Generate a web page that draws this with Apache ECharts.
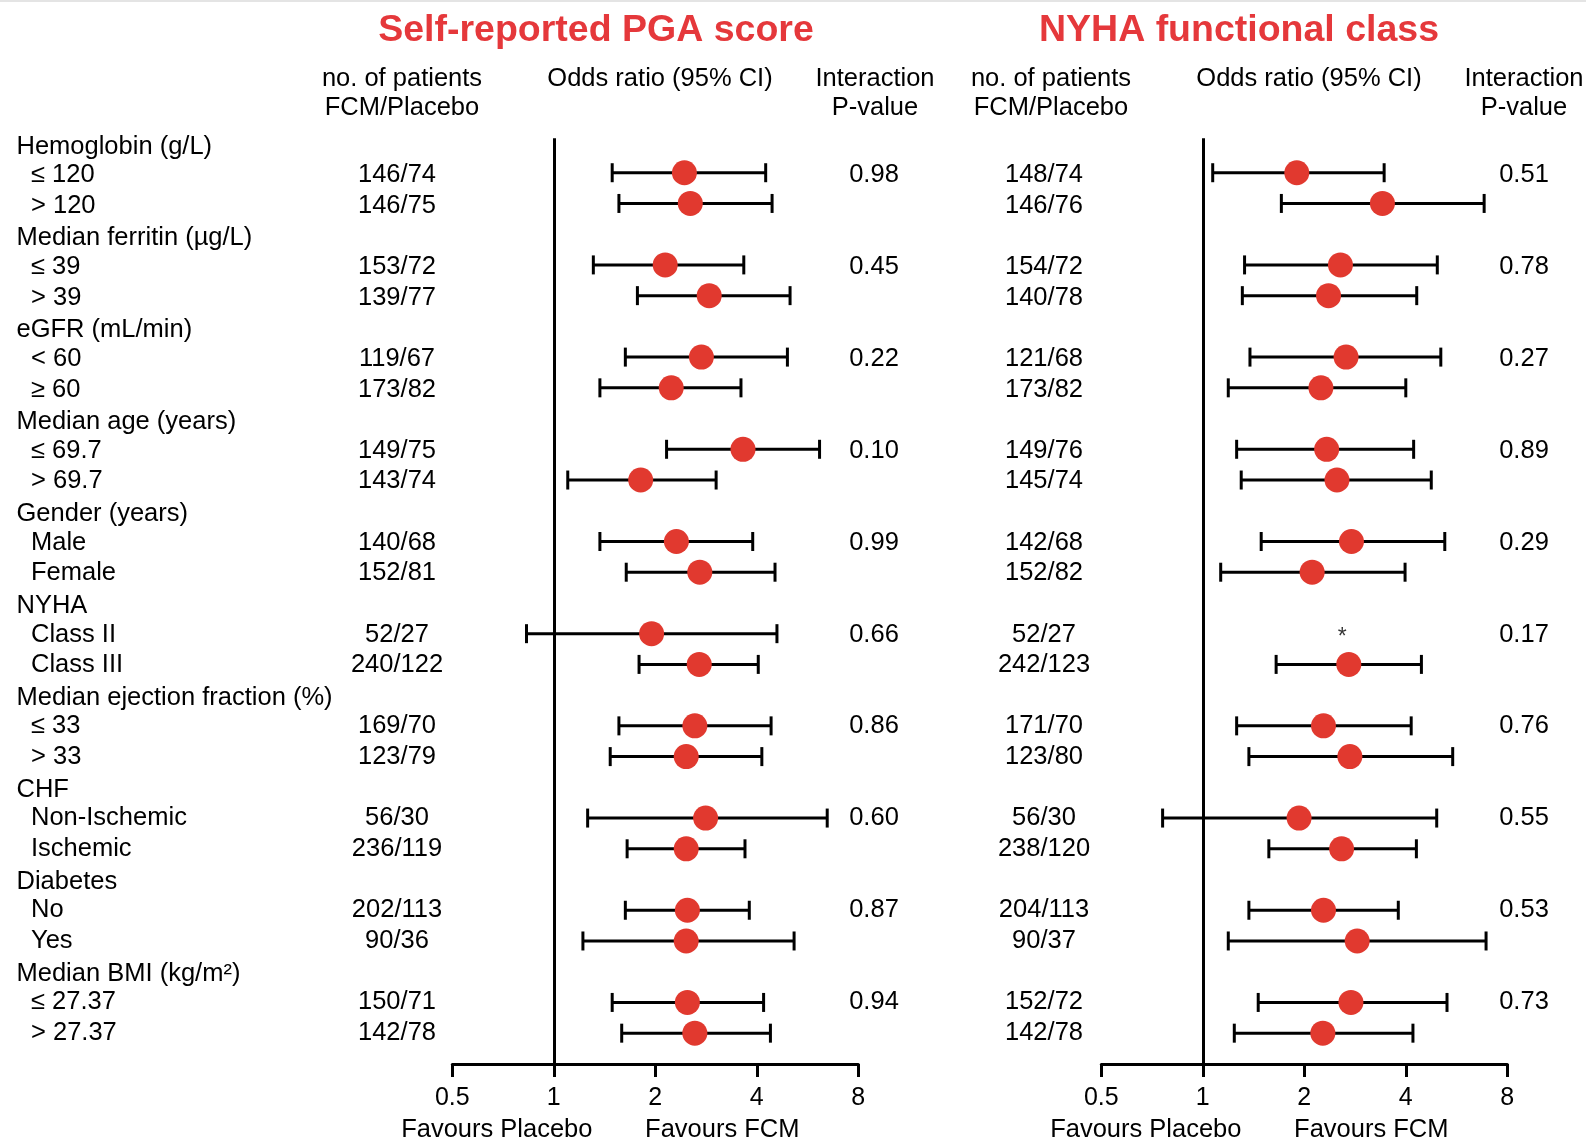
<!DOCTYPE html>
<html>
<head>
<meta charset="utf-8">
<title>Subgroup analyses: PGA score and NYHA class</title>
<script src="https://cdn.jsdelivr.net/npm/echarts@6/dist/echarts.min.js"></script>
<style>
  html, body { margin: 0; padding: 0; background: #fff; }
  #chart { width: 1586px; height: 1140px; }
</style>
</head>
<body>
<div id="chart"></div>
<script>
// Subgroup headings and the two subgroups listed under each
const groups = ['Hemoglobin (g/L)', 'Median ferritin (µg/L)', 'eGFR (mL/min)', 'Median age (years)',
  'Gender (years)', 'NYHA', 'Median ejection fraction (%)', 'CHF', 'Diabetes', 'Median BMI (kg/m²)'];
const subgroups = ['≤ 120', '> 120', '≤ 39', '> 39', '< 60', '≥ 60', '≤ 69.7', '> 69.7', 'Male', 'Female',
  'Class II', 'Class III', '≤ 33', '> 33', 'Non-Ischemic', 'Ischemic', 'No', 'Yes', '≤ 27.37', '> 27.37'];

// Self-reported PGA score
const pgaCounts = ['146/74', '146/75', '153/72', '139/77', '119/67', '173/82', '149/75', '143/74', '140/68', '152/81',
  '52/27', '240/122', '169/70', '123/79', '56/30', '236/119', '202/113', '90/36', '150/71', '142/78'];
const pgaOR   = [2.44, 2.54, 2.14, 2.89, 2.74, 2.23, 3.64, 1.81, 2.31, 2.71, 1.95, 2.70, 2.62, 2.47, 2.82, 2.47, 2.49, 2.47, 2.49, 2.62];
const pgaLow  = [1.49, 1.56, 1.31, 1.77, 1.63, 1.37, 2.16, 1.10, 1.37, 1.64, 0.83, 1.79, 1.56, 1.47, 1.26, 1.65, 1.63, 1.22, 1.49, 1.59];
const pgaHigh = [4.25, 4.44, 3.66, 5.02, 4.93, 3.59, 6.14, 3.03, 3.89, 4.53, 4.59, 4.04, 4.41, 4.14, 6.47, 3.69, 3.80, 5.16, 4.19, 4.39];
const pgaP = ['0.98', '0.45', '0.22', '0.10', '0.99', '0.66', '0.86', '0.60', '0.87', '0.94'];

// NYHA functional class (no estimate for NYHA class II)
const nyhaCounts = ['148/74', '146/76', '154/72', '140/78', '121/68', '173/82', '149/76', '145/74', '142/68', '152/82',
  '52/27', '242/123', '171/70', '123/80', '56/30', '238/120', '204/113', '90/37', '152/72', '142/78'];
const nyhaOR   = [1.90, 3.41, 2.56, 2.36, 2.66, 2.24, 2.33, 2.50, 2.76, 2.11, null, 2.71, 2.28, 2.73, 1.93, 2.58, 2.28, 2.87, 2.75, 2.27];
const nyhaLow  = [1.07, 1.71, 1.33, 1.31, 1.38, 1.19, 1.26, 1.30, 1.49, 1.13, null, 1.65, 1.26, 1.37, 0.76, 1.57, 1.37, 1.19, 1.46, 1.24];
const nyhaHigh = [3.45, 6.83, 4.96, 4.31, 5.08, 4.00, 4.22, 4.76, 5.22, 3.98, null, 4.45, 4.15, 5.51, 4.94, 4.30, 3.80, 6.92, 5.30, 4.20];
const nyhaP = ['0.51', '0.78', '0.27', '0.89', '0.29', '0.17', '0.76', '0.55', '0.53', '0.73'];
const nyhaNote = { text: '*', row: 10, x: 2.59 };

const axisTicks = [0.5, 1, 2, 4, 8];

const RED = '#e1392f';
const TITLE_RED = '#e5383b';
const FONT = '"Liberation Sans", Arial, Helvetica, sans-serif';

// row slot: heading g sits at 3g, its two subgroups at 3g+1 and 3g+2
const rowOf = i => 3 * Math.floor(i / 2) + 1 + (i % 2);

function barData(or, lo, hi) {
  const out = [];
  or.forEach((v, i) => { if (v != null) out.push([lo[i], hi[i], rowOf(i)]); });
  return out;
}
function pointData(or) {
  const out = [];
  or.forEach((v, i) => { if (v != null) out.push([v, rowOf(i)]); });
  return out;
}

function renderBar(params, api) {
  const a = api.coord([api.value(0), api.value(2)]);
  const b = api.coord([api.value(1), api.value(2)]);
  const h = 9.5;
  const st = { stroke: '#000', lineWidth: 3 };
  return {
    type: 'group',
    children: [
      { type: 'line', shape: { x1: a[0], y1: a[1], x2: b[0], y2: b[1] }, style: st },
      { type: 'line', shape: { x1: a[0], y1: a[1] - h, x2: a[0], y2: a[1] + h }, style: st },
      { type: 'line', shape: { x1: b[0], y1: b[1] - h, x2: b[0], y2: b[1] + h }, style: st }
    ]
  };
}

const grids = [
  { left: 452.3, top: 138.3, width: 406, height: 925.6 },
  { left: 1101.3, top: 138.3, width: 406, height: 925.6 }
];

function xAxisFor(idx) {
  return {
    gridIndex: idx, type: 'log', logBase: 2, position: 'bottom',
    min: axisTicks[0], max: axisTicks[axisTicks.length - 1],
    axisLine: { onZero: false, lineStyle: { color: '#000', width: 3 } },
    axisTick: { show: true, inside: false, length: 13, lineStyle: { color: '#000', width: 3 } },
    axisLabel: {
      color: '#000', fontSize: 25, fontFamily: FONT, margin: 22,
      formatter: v => String(+(+v).toPrecision(3))
    },
    splitLine: { show: false }
  };
}
function yAxisFor(idx) {
  return { gridIndex: idx, type: 'value', inverse: true, min: -0.12, max: 30, show: false };
}

function panelSeries(idx, or, lo, hi) {
  return [
    {
      type: 'custom', xAxisIndex: idx, yAxisIndex: idx, renderItem: renderBar,
      encode: { x: [0, 1], y: 2 }, data: barData(or, lo, hi), z: 3, silent: true,
      markLine: {
        silent: true, symbol: 'none', label: { show: false },
        lineStyle: { color: '#000', width: 3, type: 'solid' },
        data: [{ xAxis: 1 }]
      }
    },
    {
      type: 'scatter', xAxisIndex: idx, yAxisIndex: idx, data: pointData(or),
      symbol: 'circle', symbolSize: 25, itemStyle: { color: RED, opacity: 1 }, z: 5, silent: true
    }
  ];
}

const chart = echarts.init(document.getElementById('chart'), null, { renderer: 'canvas' });

const series = [
  ...panelSeries(0, pgaOR, pgaLow, pgaHigh),
  ...panelSeries(1, nyhaOR, nyhaLow, nyhaHigh),
  {
    type: 'scatter', xAxisIndex: 1, yAxisIndex: 1, data: [[nyhaNote.x, rowOf(nyhaNote.row)]],
    symbolSize: 0.01, silent: true,
    label: { show: true, position: 'inside', formatter: nyhaNote.text, color: '#000', fontSize: 23, fontFamily: FONT, offset: [0, 4] }
  }
];

chart.setOption({
  animation: false,
  backgroundColor: '#fff',
  grid: grids,
  xAxis: [xAxisFor(0), xAxisFor(1)],
  yAxis: [yAxisFor(0), yAxisFor(1)],
  series: series
});

// Text columns, placed on the same row scale as the marks (text rows run a touch tighter)
const TEXT_FONT = '25.5px ' + FONT;
const rowY = p => chart.convertToPixel({ yAxisIndex: 0 }, p) + 2.5 - 0.1 * p;
const txt = (text, x, y) => ({
  type: 'text', silent: true,
  style: { text: text, x: x, y: y, fill: '#000', font: TEXT_FONT, textAlign: 'center', textVerticalAlign: 'middle' }
});
const left = (text, x, y) => ({
  type: 'text', silent: true,
  style: { text: text, x: x, y: y, fill: '#000', font: TEXT_FONT, textAlign: 'left', textVerticalAlign: 'middle' }
});

const g = [];
g.push({ type: 'rect', silent: true, shape: { x: 0, y: 0, width: 1586, height: 2 }, style: { fill: '#e4e4e4' } });

// panel titles
g.push({ type: 'text', silent: true, style: { text: 'Self-reported PGA score', x: 596, y: 31, fill: TITLE_RED,
  font: 'bold 37.5px ' + FONT, textAlign: 'center', textVerticalAlign: 'middle' } });
g.push({ type: 'text', silent: true, style: { text: 'NYHA functional class', x: 1239, y: 31, fill: TITLE_RED,
  font: 'bold 37.5px ' + FONT, textAlign: 'center', textVerticalAlign: 'middle' } });

// column headings
const heads = [
  [402, 'no. of patients', 'FCM/Placebo'], [660, 'Odds ratio (95% CI)', ''], [875, 'Interaction', 'P-value'],
  [1051, 'no. of patients', 'FCM/Placebo'], [1309, 'Odds ratio (95% CI)', ''], [1524, 'Interaction', 'P-value']
];
heads.forEach(h => {
  g.push(txt(h[1], h[0], 79));
  if (h[2]) g.push(txt(h[2], h[0], 107.5));
});

// row labels
groups.forEach((name, i) => g.push(left(name, 16.5, rowY(3 * i) + 2)));
subgroups.forEach((name, i) => g.push(left(name, 31, rowY(rowOf(i)))));

// patient counts and interaction p-values
pgaCounts.forEach((c, i) => g.push(txt(c, 397, rowY(rowOf(i)))));
nyhaCounts.forEach((c, i) => g.push(txt(c, 1044, rowY(rowOf(i)))));
pgaP.forEach((p, i) => g.push(txt(p, 874, rowY(3 * i + 1))));
nyhaP.forEach((p, i) => g.push(txt(p, 1524, rowY(3 * i + 1))));

// direction captions under each axis
const capY = 1130;
[0, 1].forEach(k => {
  const one = chart.convertToPixel({ xAxisIndex: k }, 1);
  g.push(txt('Favours Placebo', one - 57, capY));
  g.push(txt('Favours FCM', one + 168.5, capY));
});

chart.setOption({ graphic: g });
</script>
</body>
</html>
